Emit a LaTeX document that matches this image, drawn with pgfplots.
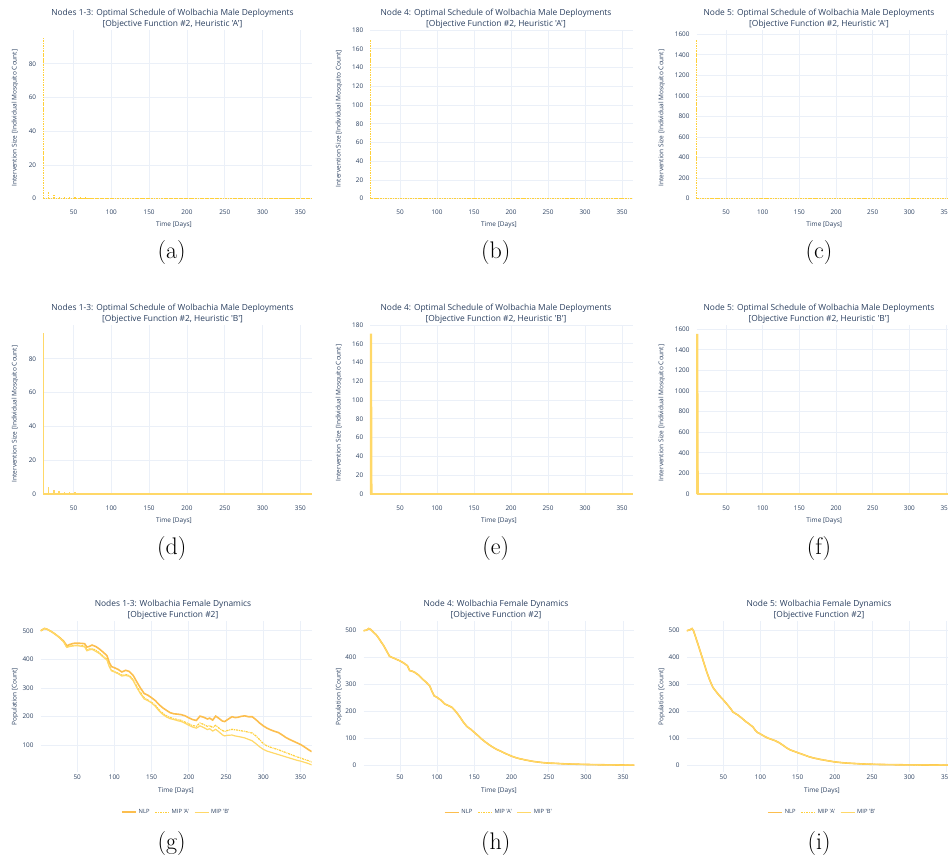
\documentclass[border=0pt]{standalone}
\usepackage{fontspec}
\usepackage{pgfplots}
\usepackage{pgfplotstable}
\pgfplotsset{compat=1.18}
\newfontfamily\osans{Open Sans}
\definecolor{ptext}{RGB}{42,63,95}
\definecolor{gridc}{RGB}{235,240,248}
\definecolor{cnlp}{RGB}{252,190,78}
\definecolor{cmipa}{RGB}{255,208,58}
\definecolor{cmipb}{RGB}{255,216,104}
\newcommand\tf{\osans\fontsize{8.4}{10.7}\selectfont\color{ptext}}
\newcommand\lf{\osans\fontsize{6.5}{7.5}\selectfont\color{ptext}}
\newcommand\cf{\fontsize{24}{28}\selectfont}

\pgfplotstableread{
day val
10 95
17 4
24 2.5
31 1.8
38 1.4
45 1.1
52 0.9
59 0.8
66 0.75
73 0.7
80 0.65
87 0.6
94 0.6
101 0.6
108 0.55
115 0.55
122 0.55
129 0.55
136 0.5
143 0.5
150 0.5
157 0.5
164 0.5
171 0.5
178 0.5
185 0.5
192 0.5
199 0.5
206 0.5
213 0.5
220 0.5
227 0.5
234 0.5
241 0.5
248 0.5
255 0.5
262 0.5
269 0.5
276 0.5
283 0.5
290 0.5
297 0.5
304 0.5
311 0.5
318 0.5
325 0.5
332 0.5
339 0.5
346 0.5
353 0.5
360 0.5
}\spikes

\pgfplotsset{
  base/.style={
    scale only axis,
    anchor=south west,
    axis line style={draw=none},
    major tick style={draw=none},
    grid=major,
    major grid style={gridc, line width=0.9pt},
    /pgf/number format/assume math mode=true,
    /pgf/number format/1000 sep={},
    tick label style={font=\osans\fontsize{6.4}{7}\selectfont, text=ptext},
    xticklabel style={anchor=base},
    yticklabel style={anchor=east, inner sep=0pt, xshift=-7pt},
    xtick={50,100,...,350},
    scaled y ticks=false,
    scaled x ticks=false,
  },
  male/.style={base, xmin=10, xmax=365, ymin=0, clip=false,
    xticklabel style={yshift=-16.2pt}},
  fem/.style={base, xmin=1, xmax=365, clip=true,
    xticklabel style={yshift=-7.8pt},
    legend style={at={(0.5,-0.269)}, anchor=center, draw=none, fill=none,
      legend columns=3, font=\osans\fontsize{5.8}{6.5}\selectfont, text=ptext,
      /tikz/every even column/.append style={column sep=3pt}},
    legend image code/.code={\draw[##1] (0pt,0pt) -- (14pt,0pt);},
  },
  dd/.style={dash pattern=on 2.2pt off 0.9pt on 0.9pt off 0.9pt},
}

\begin{document}
\begin{tikzpicture}
% ---------------- Row 1 ----------------
\begin{axis}[male, at={(43.3pt,-198.7pt)}, width=268.4pt, height=168.7pt, ymax=100, ytick={0,20,...,80}]
\addplot[cmipa, line width=1.3pt, dd, ycomb] table[x=day,y=val] {\spikes};
\addplot[cmipa, line width=1.3pt, dd] coordinates {(10,0) (365,0)};
\end{axis}
\begin{axis}[male, at={(370.4pt,-198.7pt)}, width=262.7pt, height=168.7pt, ymax=180, ytick={0,20,...,180}]
\addplot[cmipa, line width=1.3pt, dd, ycomb] coordinates {(10,170)};
\addplot[cmipa, line width=1.3pt, dd] coordinates {(10,0) (365,0)};
\end{axis}
\begin{axis}[male, at={(696.7pt,-198.7pt)}, width=260.3pt, height=168.7pt, ymax=1642, ytick={0,200,...,1600}]
\addplot[cmipa, line width=1.3pt, dd, ycomb] coordinates {(10,1550)};
\addplot[cmipa, line width=1.3pt, dd] coordinates {(10,0) (365,0)};
\end{axis}
% ---------------- Row 2 ----------------
\begin{axis}[male, at={(43.3pt,-494pt)}, width=268.4pt, height=169pt, ymax=100, ytick={0,20,...,80}]
\addplot[cmipb, line width=1.4pt, ycomb] table[x=day,y=val] {\spikes};
\addplot[cmipb, line width=1.4pt] coordinates {(10,0) (365,0)};
\end{axis}
\begin{axis}[male, at={(370.4pt,-494pt)}, width=262.7pt, height=169pt, ymax=180, ytick={0,20,...,180}]
\addplot[cmipb, line width=1.3pt, fill=cmipb] coordinates {(10,0) (10,170) (11.3,170) (12,0)};
\addplot[cmipb, line width=1.4pt] coordinates {(10,0) (365,0)};
\end{axis}
\begin{axis}[male, at={(696.7pt,-494pt)}, width=260.3pt, height=169pt, ymax=1642, ytick={0,200,...,1600}]
\addplot[cmipb, line width=1.3pt, fill=cmipb] coordinates {(10,0) (10,1550) (11.3,1550) (12,0)};
\addplot[cmipb, line width=1.4pt] coordinates {(10,0) (365,0)};
\end{axis}
% ---------------- Row 3 ----------------
\begin{axis}[fem, at={(40.7pt,-771.7pt)}, width=271pt, height=150.7pt, ymin=8, ymax=534, ytick={100,200,...,500}]
\addplot[cnlp, line width=1.6pt] coordinates {(1,500)(3,503)(6,508)(9,506)(12,502)(16,496)(20,489)(24,481)(28,473)(32,463)(35,452)(36,447)(40,452)(45,456)(50,457)(55,456)(60,455)(63,443)(66,445)(70,450)(75,445)(80,436)(85,425)(90,413)(93,390)(96,375)(100,371)(105,365)(110,356)(115,362)(120,358)(125,345)(130,322)(135,300)(140,281)(145,275)(150,266)(155,256)(160,242)(165,231)(170,222)(175,214)(180,210)(185,209)(190,207)(195,203)(200,196)(205,190)(210,187)(215,202)(220,198)(225,192)(228,195)(232,188)(236,202)(240,195)(245,185)(248,183)(252,190)(258,200)(262,197)(266,198)(270,201)(275,203)(280,200)(285,200)(290,190)(295,178)(300,168)(305,160)(310,154)(315,149)(320,145)(325,137)(330,128)(335,121)(340,115)(345,109)(350,103)(355,95)(360,86)(365,78)};
\addlegendentry{NLP}
\addplot[cmipa, line width=1.2pt, dd] coordinates {(1,500)(3,503)(6,508)(9,506)(12,502)(16,496)(20,489)(24,481)(28,472)(32,461)(35,448)(36,443)(40,447)(45,449)(50,450)(55,448)(60,447)(63,433)(66,436)(70,438)(75,432)(80,423)(85,411)(90,400)(93,378)(96,362)(100,358)(105,352)(110,345)(115,347)(120,344)(125,330)(130,306)(135,285)(140,266)(145,258)(150,250)(155,240)(160,224)(165,212)(170,203)(175,197)(180,193)(185,190)(190,187)(195,181)(200,175)(205,169)(210,167)(215,178)(220,173)(225,166)(228,169)(232,162)(236,170)(240,161)(245,152)(248,148)(252,152)(258,156)(262,154)(266,153)(270,151)(275,149)(280,146)(285,143)(290,133)(295,120)(300,106)(305,98)(310,93)(315,89)(320,85)(325,80)(330,75)(335,70)(340,65)(345,60)(350,56)(355,51)(360,47)(365,42)};
\addlegendentry{MIP 'A'}
\addplot[cmipb, line width=1.2pt] coordinates {(1,500)(3,503)(6,508)(9,506)(12,502)(16,496)(20,489)(24,481)(28,471)(32,460)(35,446)(36,442)(40,445)(45,447)(50,448)(55,446)(60,444)(63,430)(66,433)(70,435)(75,428)(80,420)(85,408)(90,398)(93,375)(96,360)(100,356)(105,350)(110,342)(115,344)(120,341)(125,327)(130,302)(135,280)(140,262)(145,256)(150,248)(155,236)(160,220)(165,208)(170,199)(175,193)(180,190)(185,186)(190,183)(195,177)(200,170)(205,164)(210,160)(215,168)(220,162)(225,155)(228,158)(232,150)(236,156)(240,148)(245,137)(248,133)(252,135)(258,136)(262,133)(266,131)(270,129)(275,126)(280,121)(285,116)(290,106)(295,95)(300,86)(305,80)(310,76)(315,72)(320,68)(325,64)(330,60)(335,56)(340,52)(345,48)(350,45)(355,41)(360,37)(365,32)};
\addlegendentry{MIP 'B'}
\end{axis}
\begin{axis}[fem, at={(363.5pt,-772pt)}, width=270.8pt, height=151pt, ymin=-25, ymax=536, ytick={0,100,...,500}]
\addplot[cnlp, line width=1.6pt] coordinates {(1,500)(5,502)(8,508)(10,506)(13,498)(18,485)(22,470)(25,457)(28,445)(32,425)(36,405)(40,400)(45,394)(50,388)(55,380)(60,370)(63,352)(67,349)(70,345)(75,335)(80,321)(85,309)(90,295)(93,275)(96,258)(100,252)(105,242)(110,228)(115,222)(120,215)(125,200)(130,182)(135,161)(140,144)(145,134)(150,122)(155,110)(160,97)(165,86)(170,76)(175,67)(180,59)(185,53)(190,46)(195,40)(200,34)(205,29)(210,25)(220,19)(230,14)(240,10.5)(250,8)(260,7)(270,5.5)(280,4.5)(300,3)(320,2)(340,1.2)(365,0.5)};
\addlegendentry{NLP}
\addplot[cmipa, line width=1.2pt, dd] coordinates {(1,500)(5,502)(8,508)(10,506)(13,498)(18,485)(22,470)(25,457)(28,445)(32,425)(36,405)(40,400)(45,394)(50,388)(55,380)(60,370)(63,352)(67,349)(70,345)(75,335)(80,321)(85,309)(90,295)(93,275)(96,258)(100,252)(105,242)(110,228)(115,222)(120,215)(125,200)(130,182)(135,161)(140,144)(145,134)(150,122)(155,110)(160,97)(165,86)(170,76)(175,67)(180,59)(185,53)(190,46)(195,40)(200,34)(205,29)(210,25)(220,19)(230,14)(240,10.5)(250,8)(260,7)(270,5.5)(280,4.5)(300,3)(320,2)(340,1.2)(365,0.5)};
\addlegendentry{MIP 'A'}
\addplot[cmipb, line width=1.0pt] coordinates {(1,500)(5,502)(8,508)(10,506)(13,498)(18,485)(22,470)(25,457)(28,445)(32,425)(36,405)(40,400)(45,394)(50,388)(55,380)(60,370)(63,352)(67,349)(70,345)(75,335)(80,321)(85,309)(90,295)(93,275)(96,258)(100,252)(105,242)(110,228)(115,222)(120,215)(125,200)(130,182)(135,161)(140,144)(145,134)(150,122)(155,110)(160,97)(165,86)(170,76)(175,67)(180,59)(185,53)(190,46)(195,40)(200,34)(205,29)(210,25)(220,19)(230,14)(240,10.5)(250,8)(260,7)(270,5.5)(280,4.5)(300,3)(320,2)(340,1.2)(365,0.5)};
\addlegendentry{MIP 'B'}
\end{axis}
\begin{axis}[fem, at={(686.8pt,-772pt)}, width=270.9pt, height=151pt, ymin=-25, ymax=536, ytick={0,100,...,500}]
\addplot[cnlp, line width=1.6pt] coordinates {(1,500)(5,503)(8,508)(10,500)(13,475)(16,450)(20,415)(24,380)(28,345)(32,315)(36,290)(40,275)(45,258)(50,243)(55,227)(60,210)(63,198)(70,186)(75,175)(80,163)(85,153)(90,142)(93,130)(96,122)(100,116)(105,108)(110,101)(115,96)(120,91)(125,84)(130,75)(135,65)(140,57)(145,52)(150,47)(155,42)(160,37)(165,32)(170,28)(175,25)(180,22)(190,17)(200,12.5)(210,9.5)(220,7.5)(240,4.5)(260,3)(280,2.2)(300,1.5)(330,1)(365,0.5)};
\addlegendentry{NLP}
\addplot[cmipa, line width=1.2pt, dd] coordinates {(1,500)(5,503)(8,508)(10,500)(13,475)(16,450)(20,415)(24,380)(28,345)(32,315)(36,290)(40,275)(45,258)(50,243)(55,227)(60,210)(63,198)(70,186)(75,175)(80,163)(85,153)(90,142)(93,130)(96,122)(100,116)(105,108)(110,101)(115,96)(120,91)(125,84)(130,75)(135,65)(140,57)(145,52)(150,47)(155,42)(160,37)(165,32)(170,28)(175,25)(180,22)(190,17)(200,12.5)(210,9.5)(220,7.5)(240,4.5)(260,3)(280,2.2)(300,1.5)(330,1)(365,0.5)};
\addlegendentry{MIP 'A'}
\addplot[cmipb, line width=1.0pt] coordinates {(1,500)(5,503)(8,508)(10,500)(13,475)(16,450)(20,415)(24,380)(28,345)(32,315)(36,290)(40,275)(45,258)(50,243)(55,227)(60,210)(63,198)(70,186)(75,175)(80,163)(85,153)(90,142)(93,130)(96,122)(100,116)(105,108)(110,101)(115,96)(120,91)(125,84)(130,75)(135,65)(140,57)(145,52)(150,47)(155,42)(160,37)(165,32)(170,28)(175,25)(180,22)(190,17)(200,12.5)(210,9.5)(220,7.5)(240,4.5)(260,3)(280,2.2)(300,1.5)(330,1)(365,0.5)};
\addlegendentry{MIP 'B'}
\end{axis}
% ---------------- Titles ----------------
\node[font=\tf, align=center] at (172.5pt,-18.7pt) {Nodes 1-3: Optimal Schedule of Wolbachia Male Deployments\\{[}Objective Function \#2, Heuristic 'A']};
\node[font=\tf, align=center] at (496pt,-18.7pt) {Node 4: Optimal Schedule of Wolbachia Male Deployments\\{[}Objective Function \#2, Heuristic 'A']};
\node[font=\tf, align=center] at (819pt,-18.7pt) {Node 5: Optimal Schedule of Wolbachia Male Deployments\\{[}Objective Function \#2, Heuristic 'A']};
\node[font=\tf, align=center] at (172.5pt,-314pt) {Nodes 1-3: Optimal Schedule of Wolbachia Male Deployments\\{[}Objective Function \#2, Heuristic 'B']};
\node[font=\tf, align=center] at (496pt,-314pt) {Node 4: Optimal Schedule of Wolbachia Male Deployments\\{[}Objective Function \#2, Heuristic 'B']};
\node[font=\tf, align=center] at (819pt,-314pt) {Node 5: Optimal Schedule of Wolbachia Male Deployments\\{[}Objective Function \#2, Heuristic 'B']};
\node[font=\tf, align=center] at (173pt,-609.8pt) {Nodes 1-3: Wolbachia Female Dynamics\\{[}Objective Function \#2]};
\node[font=\tf, align=center] at (496pt,-609.8pt) {Node 4: Wolbachia Female Dynamics\\{[}Objective Function \#2]};
\node[font=\tf, align=center] at (819pt,-609.8pt) {Node 5: Wolbachia Female Dynamics\\{[}Objective Function \#2]};
% ---------------- Axis labels ----------------
\foreach \x/\y in {15/118, 339/118.7, 661.7/118, 15/414, 339/413, 661.7/413} {
  \node[font=\lf, rotate=90] at (\x pt,-\y pt) {Intervention Size [Individual Mosquito Count]};
}
\foreach \x/\y in {15/696.7, 339/697, 661.7/697} {
  \node[font=\lf, rotate=90] at (\x pt,-\y pt) {Population [Count]};
}
\foreach \x/\y in {174/225.3, 499/225.3, 824.3/225.3, 174/520.7, 499/520.7, 824.3/520.7, 176/791, 499/791, 822/791} {
  \node[font=\lf] at (\x pt,-\y pt) {Time [Days]};
}
% ---------------- Captions ----------------
\node[font=\cf] at (171.7pt,-253pt) {(a)};
\node[font=\cf] at (495.7pt,-253pt) {(b)};
\node[font=\cf] at (819pt,-253pt) {(c)};
\node[font=\cf] at (171.7pt,-549pt) {(d)};
\node[font=\cf] at (495.7pt,-549pt) {(e)};
\node[font=\cf] at (819pt,-549pt) {(f)};
\node[font=\cf] at (171.7pt,-843pt) {(g)};
\node[font=\cf] at (495.7pt,-843pt) {(h)};
\node[font=\cf] at (819pt,-843pt) {(i)};
\pgfresetboundingbox
\path[use as bounding box] (0,0) rectangle (948pt,-863pt);
\end{tikzpicture}
\end{document}
